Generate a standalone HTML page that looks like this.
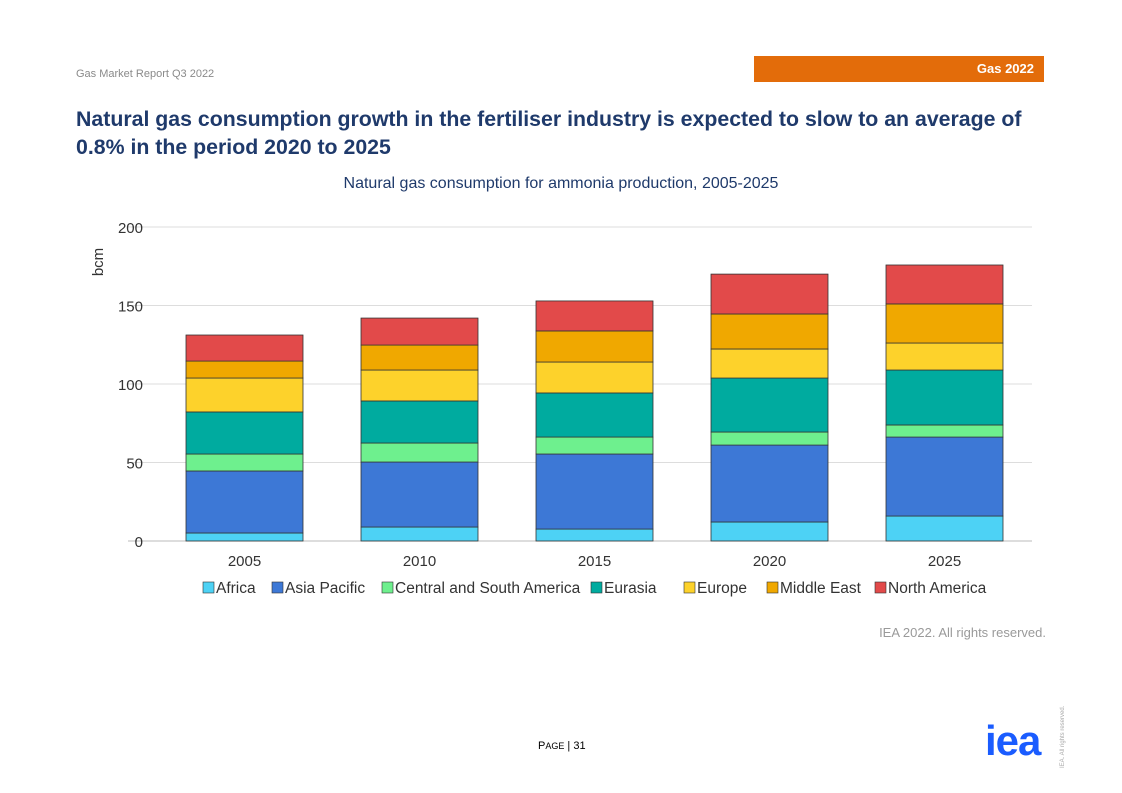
<!DOCTYPE html>
<html><head><meta charset="utf-8"><style>
body{margin:0;width:1122px;height:793px;background:#fff;font-family:"Liberation Sans",sans-serif;position:relative;overflow:hidden}
.a{position:absolute}
</style></head><body>
<div class="a" style="left:76px;top:68px;font-size:11px;color:#8a8a8a">Gas Market Report Q3 2022</div>
<div class="a" style="left:754px;top:56px;width:290px;height:26px;background:#e36c0a;color:#fff;font-size:13px;font-weight:bold;text-align:right;box-sizing:border-box;padding:5px 10px 0 0">Gas 2022</div>
<div class="a" style="left:76px;top:105px;width:990px;font-size:21.3px;font-weight:bold;color:#1f3a6b;line-height:28px">Natural gas consumption growth in the fertiliser industry is expected to slow to an average of 0.8% in the period 2020 to 2025</div>
<div class="a" style="left:0;width:1122px;top:175px;text-align:center;font-size:16px;color:#1f3a6b">Natural gas consumption for ammonia production, 2005-2025</div>
<svg class="a" style="left:0;top:0" width="1122" height="793" id="chart"></svg>
<div class="a" style="right:76px;top:625px;font-size:13px;color:#9a9a9a">IEA 2022. All rights reserved.</div>
<div class="a" style="left:538px;top:740px;font-size:11px;color:#000">P<span style="font-size:9px">AGE</span> | 31</div>
<div class="a" style="left:985px;top:720px;font-size:42px;font-weight:bold;color:#1a5cff;letter-spacing:-1px;line-height:42px">iea</div>
<div class="a" style="left:1060px;font-size:6px;color:#aaa;transform:rotate(-90deg);transform-origin:left top;white-space:nowrap;top:768px">IEA. All rights reserved.</div>
<script>
const categories=["2005","2010","2015","2020","2025"];
const seriesNames=["Africa","Asia Pacific","Central and South America","Eurasia","Europe","Middle East","North America"];
const africa=[5.1,8.9,7.6,12.1,15.9];
const asiaPacific=[39.5,41.4,47.8,49,50.3];
const csAmerica=[10.8,12.1,10.8,8.3,7.7];
const eurasia=[26.8,26.8,28.1,34.4,35];
const europe=[21.6,19.7,19.7,18.5,17.2];
const middleEast=[10.8,15.9,19.8,22.3,24.9];
const northAmerica=[16.6,17.2,19.1,25.4,24.8];
const yTicks=[0,50,100,150,200];
const series=[africa,asiaPacific,csAmerica,eurasia,europe,middleEast,northAmerica];
const colors=["#4dd2f5","#3d78d6","#6ef08e","#00ab9f","#fdd22b","#f0a800","#e24a4a"];
const NS="http://www.w3.org/2000/svg",svg=document.getElementById('chart');
const y=v=>541-v*1.57, band=175, x0=157, bw=117;
const xc=i=>x0+band*i+band/2;
function mk(t,a){const e=document.createElementNS(NS,t);for(const k in a)e.setAttribute(k,a[k]);svg.appendChild(e);return e;}
yTicks.forEach(t=>{
 const l=mk('line',{x1:128,x2:1032,y1:y(t),y2:y(t),stroke:t===0?'#bbb':'#ddd','stroke-width':1});
 
 
 const tx=mk('text',{x:143,y:y(t)+6,'text-anchor':'end','font-size':15,fill:'#333'});tx.textContent=t;
 
 
});
const yt=mk('text',{x:103,y:262,'font-size':15,fill:'#333','text-anchor':'middle',transform:'rotate(-90 103 262)'});yt.textContent='bcm';


categories.forEach((c,i)=>{
 let cum=0;
 series.forEach((s,j)=>{
  const r=mk('rect',{x:xc(i)-bw/2,y:y(cum+s[i]),width:bw,height:s[i]*1.57,fill:colors[j],stroke:'#333','stroke-width':0.8});
  
  
  cum+=s[i];
 });
 const t=mk('text',{x:xc(i),y:566,'text-anchor':'middle','font-size':15,fill:'#333'});t.textContent=c;
 
 
});
const lx=[203,272,382,591,684,767,875];
seriesNames.forEach((n,j)=>{
 const g=document.createElementNS(NS,'g');svg.appendChild(g);
 
 
 const r=document.createElementNS(NS,'rect');
 [['x',lx[j]],['y',582],['width',11],['height',11],['fill',colors[j]],['stroke','#333'],['stroke-width',0.6]].forEach(a=>r.setAttribute(a[0],a[1]));g.appendChild(r);
 const t=document.createElementNS(NS,'text');
 [['x',lx[j]+13],['y',593],['font-size',15.5],['fill','#333']].forEach(a=>t.setAttribute(a[0],a[1]));t.textContent=n;g.appendChild(t);
});
</script>
</body></html>
